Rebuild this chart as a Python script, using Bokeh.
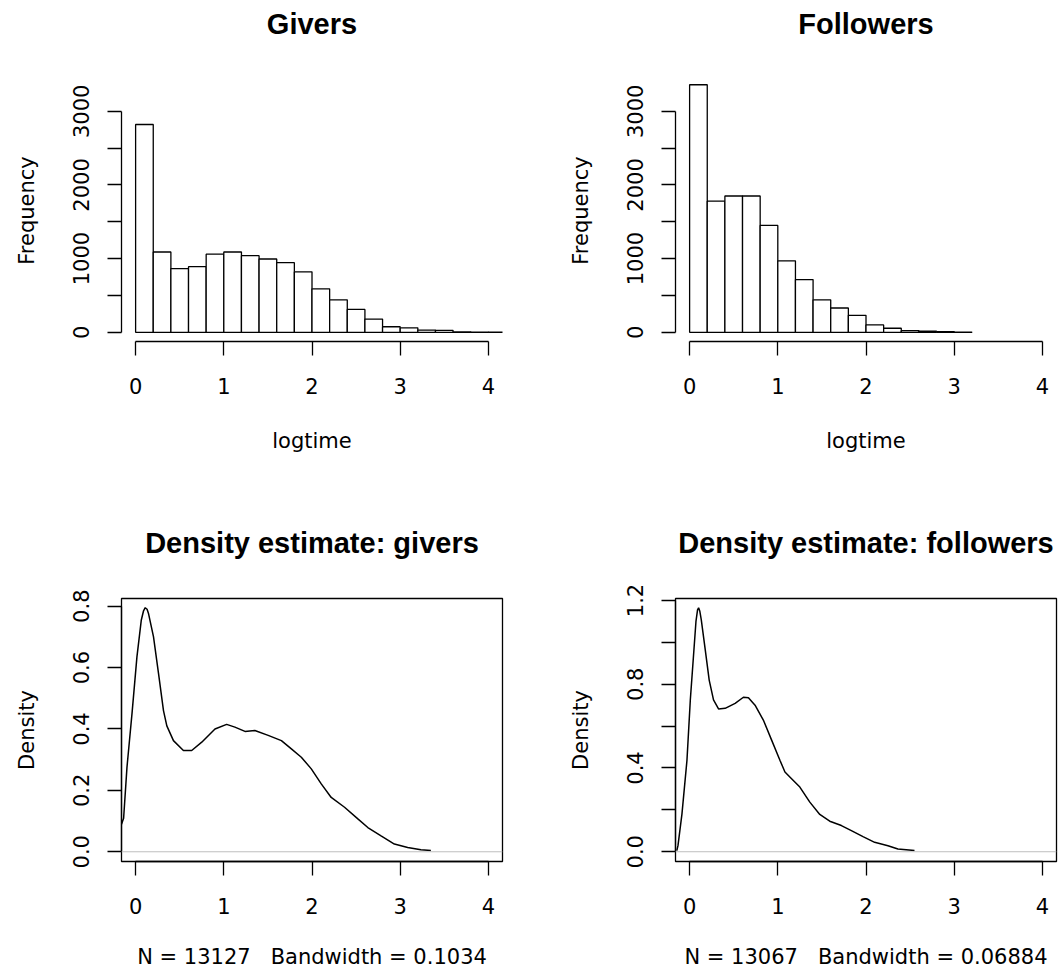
from bokeh.plotting import figure
from bokeh.layouts import column, row
from bokeh.models import (FixedTicker, Span, NumeralTickFormatter,
                          BasicTickFormatter, LinearAxis)
from bokeh.embed import file_html
from bokeh.resources import INLINE

# ---------------- data ----------------
bin_width = 0.2
givers_counts = [2820, 1090, 865, 890, 1060, 1090, 1040, 995, 945, 820,
                 590, 440, 310, 180, 75, 60, 30, 25, 6, 3, 1]
followers_counts = [3360, 1780, 1850, 1850, 1450, 970, 715, 440, 330, 230,
                    100, 55, 22, 14, 10, 3]

givers_dx = [-0.16, -0.136, -0.098, -0.041, 0.015, 0.064, 0.09, 0.109, 0.13, 0.147, 0.203,
             0.26, 0.316, 0.354, 0.429, 0.542, 0.636, 0.75, 0.90, 1.032, 1.126,
             1.24, 1.352, 1.503, 1.653, 1.766, 1.879, 1.992, 2.105, 2.218, 2.369,
             2.52, 2.633, 2.783, 2.934, 3.085, 3.235, 3.348]
givers_dy = [0.09, 0.109, 0.275, 0.45, 0.635, 0.754, 0.785, 0.795, 0.79, 0.775, 0.70,
             0.58, 0.46, 0.41, 0.362, 0.33, 0.33, 0.357, 0.40, 0.415, 0.406,
             0.392, 0.395, 0.379, 0.362, 0.335, 0.308, 0.27, 0.221, 0.177, 0.145,
             0.107, 0.079, 0.052, 0.025, 0.014, 0.0065, 0.004]

followers_dx = [-0.145, -0.132, -0.087, -0.03, 0.008, 0.038, 0.072, 0.09, 0.102, 0.115, 0.132,
                0.177, 0.222, 0.271, 0.328, 0.403, 0.516, 0.61, 0.667, 0.742,
                0.836, 0.93, 1.024, 1.081, 1.156, 1.25, 1.363, 1.476, 1.589,
                1.721, 1.834, 1.966, 2.098, 2.249, 2.362, 2.55]
followers_dy = [0.005, 0.029, 0.18, 0.437, 0.725, 0.90, 1.10, 1.155, 1.165, 1.15, 1.109,
                0.965, 0.82, 0.725, 0.682, 0.685, 0.709, 0.738, 0.736, 0.70,
                0.629, 0.533, 0.437, 0.381, 0.349, 0.309, 0.237, 0.178, 0.146,
                0.125, 0.101, 0.072, 0.045, 0.029, 0.013, 0.006]

x_ticks = [0, 1, 2, 3, 4]
hist_major = [0, 1000, 2000, 3000]
hist_minor = [500, 1500, 2500]
giv_major = [0.0, 0.2, 0.4, 0.6, 0.8]
fol_major = [0.0, 0.4, 0.8, 1.2]
fol_minor = [0.2, 0.6, 1.0]

GAP = "\u00a0\u00a0\u00a0"
giv_xlabel = "N = 13127" + GAP + "Bandwidth = 0.1034"
fol_xlabel = "N = 13067" + GAP + "Bandwidth = 0.06884"

# ---------------- style ----------------
AX_FONT = "DejaVu Sans"
TITLE_FONT = "Liberation Sans"
FS = "21px"
LW = 1.3
X_RANGE = (-0.16, 4.16)


def base_fig(title, width, height, left, right, top, bottom, yr, title_standoff):
    p = figure(width=width, height=height, x_range=X_RANGE, y_range=yr,
               output_backend="svg", toolbar_location=None,
               min_border_left=left, min_border_right=right,
               min_border_top=top, min_border_bottom=bottom)
    p.grid.visible = False
    p.background_fill_color = "white"
    p.border_fill_color = "white"
    xax = p.below[0]
    yax = p.left[0]
    for ax in (xax, yax):
        ax.axis_line_width = LW
        ax.axis_line_color = "black"
        ax.major_tick_line_width = LW
        ax.minor_tick_line_width = LW
        ax.major_tick_line_color = "black"
        ax.minor_tick_line_color = "black"
        ax.major_tick_out = 14
        ax.major_tick_in = 0
        ax.minor_tick_out = 14
        ax.minor_tick_in = 0
        ax.major_label_text_font = AX_FONT
        ax.major_label_text_font_size = FS
        ax.major_label_text_color = "black"
        ax.axis_label_text_font = AX_FONT
        ax.axis_label_text_font_size = FS
        ax.axis_label_text_font_style = "normal"
        ax.axis_label_text_color = "black"
    xax.ticker = FixedTicker(ticks=x_ticks)
    xax.bounds = (0, 4)
    xax.major_label_standoff = 22
    xax.axis_label_standoff = 32
    yax.major_label_orientation = "parallel"
    yax.major_label_standoff = 18
    yax.axis_label_standoff = 32
    # main title drawn as the label of a bare axis above the frame
    t = LinearAxis(ticker=FixedTicker(ticks=[]), axis_line_color=None,
                   major_tick_line_color=None, minor_tick_line_color=None,
                   major_label_text_color=None,
                   axis_label=title, axis_label_standoff=title_standoff,
                   axis_label_text_font=TITLE_FONT,
                   axis_label_text_font_size="29px",
                   axis_label_text_font_style="bold",
                   axis_label_text_color="black")
    p.add_layout(t, "above")
    return p, xax, yax


def hist_fig(title, counts, width, left, right):
    p, xax, yax = base_fig(title, width, 500, left, right, 79, 159,
                           (-125, 3431), 40)
    p.outline_line_color = None
    lefts = [i * bin_width for i in range(len(counts))]
    rights = [(i + 1) * bin_width for i in range(len(counts))]
    p.quad(left=lefts, right=rights, bottom=0, top=counts,
           fill_color="white", line_color="black", line_width=LW)
    yax.ticker = FixedTicker(ticks=hist_major, minor_ticks=hist_minor)
    yax.formatter = BasicTickFormatter(use_scientific=False)
    yax.bounds = (0, 3000)
    xax.axis_label = "logtime"
    yax.axis_label = "Frequency"
    return p


def dens_fig(title, xs, ys, xlabel, yr, major, minor, width, left, right):
    p, xax, yax = base_fig(title, width, 480, left, right, 98, 119, yr, 40)
    p.outline_line_color = "black"
    p.outline_line_width = LW
    p.add_layout(Span(location=0, dimension="width", line_color="#bebebe",
                      line_width=1))
    p.line(xs, ys, line_color="black", line_width=1.5)
    yax.ticker = FixedTicker(ticks=major, minor_ticks=minor)
    yax.formatter = NumeralTickFormatter(format="0.0")
    yax.bounds = (0, major[-1])
    xax.axis_label = xlabel
    xax.axis_label_standoff = 28
    yax.axis_label = "Density"
    return p


p1 = hist_fig("Givers", givers_counts, 555, 121, 53)
p2 = hist_fig("Followers", followers_counts, 505, 120, 4)
p3 = dens_fig("Density estimate: givers", givers_dx, givers_dy,
              giv_xlabel, (-0.0317, 0.825), giv_major, [], 555, 121, 53)
p4 = dens_fig("Density estimate: followers", followers_dx, followers_dy,
              fol_xlabel, (-0.0466, 1.2096), fol_major, fol_minor, 505, 120, 4)

layout = column(row(p1, p2), row(p3, p4))
open("out.html", "w").write(file_html(layout, INLINE))
